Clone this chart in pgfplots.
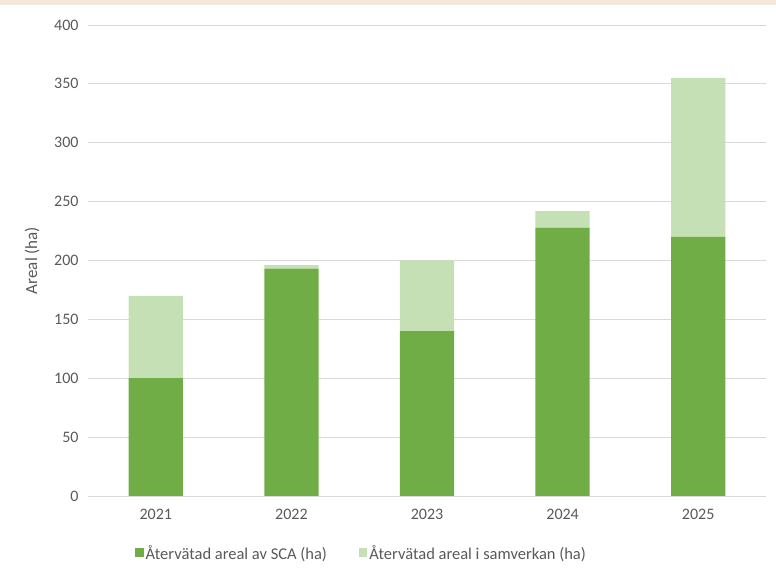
\documentclass[border=0pt]{standalone}
\usepackage{fontspec}
\setmainfont{Carlito}
\usepackage{pgfplots}
\pgfplotsset{compat=1.18}
\definecolor{dark}{HTML}{70AD47}
\definecolor{light}{HTML}{C5E0B4}
\definecolor{gridc}{HTML}{D9D9D9}
\definecolor{txt}{HTML}{595959}
\definecolor{beige}{HTML}{F3E9DB}
\begin{document}
\begin{tikzpicture}[x=1bp,y=1bp]
\path[use as bounding box] (0,0) rectangle (776,576);
\fill[beige] (0,571) rectangle (776,576);
\begin{axis}[
  at={(88bp,80bp)}, anchor=south west,
  scale only axis, width=678bp, height=471bp,
  ybar stacked, bar width=0.4,
  xmin=-0.5, xmax=4.5, ymin=0, ymax=400,
  ytick={0,50,...,400},
  xtick={0,1,2,3,4}, xticklabels={2021,2022,2023,2024,2025},
  axis line style={draw=none},
  axis x line*=bottom,
  x axis line style={draw=gridc, line width=0.8pt},
  tick style={draw=none},
  ymajorgrids, grid style={gridc, line width=0.8pt},
  ticklabel style={font=\fontsize{16bp}{18bp}\selectfont, text=txt},
  /pgf/number format/assume math mode=true,
  yticklabel style={xshift=-6bp},
  xticklabel style={yshift=-10bp},
  ylabel={Areal (ha)},
  every axis y label/.style={at={(axis description cs:-0.0826,0.5)}, rotate=90, anchor=center,
     font=\fontsize{17bp}{19bp}\selectfont, text=txt},
  legend style={at={(axis description cs:0.0649,-0.121)}, anchor=west, draw=none, fill=none,
    font=\fontsize{16.5bp}{18bp}\selectfont, text=txt,
    legend columns=2, /tikz/every even column/.append style={column sep=30bp}},
  legend image code/.code={\fill[#1] (0bp,-4.5bp) rectangle (8.5bp,4.5bp);},
  legend cell align=left,
]
\addplot[fill=dark, draw=none] coordinates {(0,100) (1,193) (2,140) (3,228) (4,220)};
\addplot[fill=light, draw=none] coordinates {(0,70) (1,3) (2,60) (3,14) (4,135)};
\legend{Återvätad areal av SCA (ha), Återvätad areal i samverkan (ha)}
\end{axis}
\end{tikzpicture}
\end{document}
